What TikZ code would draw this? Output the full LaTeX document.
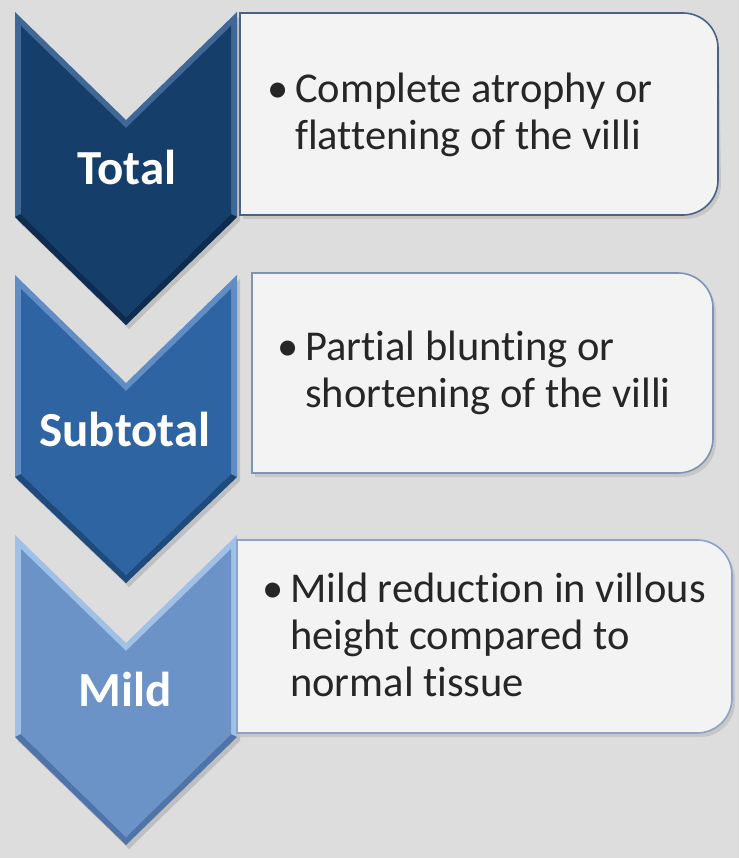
\documentclass[tikz,border=0pt]{standalone}
\usepackage{fontspec}
\setmainfont{Carlito}[Ligatures=NoCommon]
\usetikzlibrary{positioning}

\definecolor{bgray}{RGB}{221,221,221}
\definecolor{boxfill}{RGB}{243,243,243}
\definecolor{txt}{RGB}{38,38,38}
\definecolor{navyA}{RGB}{22,62,106}
\definecolor{navyAl}{RGB}{64,104,150}
\definecolor{navyAd}{RGB}{14,44,80}
\definecolor{blueB}{RGB}{46,100,161}
\definecolor{blueBl}{RGB}{96,142,196}
\definecolor{blueBd}{RGB}{30,74,124}
\definecolor{blueC}{RGB}{108,147,200}
\definecolor{blueCl}{RGB}{160,192,230}
\definecolor{blueCd}{RGB}{80,116,168}
\definecolor{edgeA}{RGB}{72,98,132}
\definecolor{edgeB}{RGB}{126,148,180}
\definecolor{edgeC}{RGB}{140,162,198}

\begin{document}
\begin{tikzpicture}[x=1pt, y=-1pt,
		level/.style={font=\fontsize{49}{52}\selectfont\bfseries, text=white},
		desc/.style={font=\fontsize{42.5}{47}\selectfont, text=txt, align=left, anchor=base west, inner sep=0pt},
		dot/.style={font=\fontsize{42.5}{47}\selectfont, text=txt, anchor=base east, inner sep=0pt},
		card/.style={fill=boxfill, line width=1.6pt}]
				\useasboundingbox[fill=bgray] (0,0) rectangle (739,858);

				% chevron Total
				\fill[black!25] (18,16) -- (129,124) -- (240,16) -- (240,221) -- (129,329) -- (18,221) -- cycle;
				\fill[navyAl] (15,12) -- (126,120) -- (237,12) -- (237,217) -- (126,325) -- (15,217) -- cycle;
				\fill[navyAd] (15,217) -- (126,325) -- (237,217) -- (231,214) -- (126,317) -- (21,214) -- cycle;
				\fill[navyA] (21,26) -- (126,128) -- (231,26) -- (231,214) -- (126,317) -- (21,214) -- cycle;
				\node[level] (total) at (127,167) {Total};

				% chevron Subtotal
				\fill[black!25] (18,279) -- (129,387) -- (240,279) -- (240,481) -- (129,587) -- (18,481) -- cycle;
				\fill[blueBl] (15,275) -- (126,383) -- (237,275) -- (237,477) -- (126,583) -- (15,477) -- cycle;
				\fill[blueBd] (15,477) -- (126,583) -- (237,477) -- (231,474) -- (126,575) -- (21,474) -- cycle;
				\fill[blueB] (21,289) -- (126,391) -- (231,289) -- (231,474) -- (126,575) -- (21,474) -- cycle;
				\node[level] (subtotal) at (125,429) {Subtotal};

				% chevron Mild
				\fill[black!25] (18,539) -- (129,647) -- (240,539) -- (240,741) -- (129,849) -- (18,741) -- cycle;
				\fill[blueCl] (15,535) -- (126,643) -- (237,535) -- (237,737) -- (126,845) -- (15,737) -- cycle;
				\fill[blueCd] (15,737) -- (126,845) -- (237,737) -- (231,734) -- (126,837) -- (21,734) -- cycle;
				\fill[blueC] (21,549) -- (126,651) -- (231,549) -- (231,734) -- (126,837) -- (21,734) -- cycle;
				\node[level] (mild) at (125,689) {Mild};

				% boxes
				\fill[black!22] (243,17) -- (684,17) arc[start angle=-90, end angle=0, radius=35] -- (721,184) arc[start angle=0, end angle=90, radius=35] -- (243,219) -- cycle;
				\draw[card, draw=edgeA] (240,13) -- (683,13) arc[start angle=-90, end angle=0, radius=35] -- (718,180) arc[start angle=0, end angle=90, radius=35] -- (240,215) -- cycle;

				\fill[black!22] (255,277) -- (681,277) arc[start angle=-90, end angle=0, radius=35] -- (716,442) arc[start angle=0, end angle=90, radius=35] -- (255,477) -- cycle;
				\draw[card, draw=edgeB] (252,273) -- (678,273) arc[start angle=-90, end angle=0, radius=35] -- (713,438) arc[start angle=0, end angle=90, radius=35] -- (252,473) -- cycle;

				\fill[black!22] (240,544) -- (700,544) arc[start angle=-90, end angle=0, radius=35] -- (735,702) arc[start angle=0, end angle=90, radius=35] -- (240,737) -- cycle;
				\draw[card, draw=edgeC] (237,540) -- (697,540) arc[start angle=-90, end angle=0, radius=35] -- (732,698) arc[start angle=0, end angle=90, radius=35] -- (237,733) -- cycle;

				% texts (base = last line)
				\node[desc] (d1) at (295,150) {Complete atrophy or\\flattening of the villi};
				\node[dot] (b1) at (289,103) {\textbullet};

				\node[desc] (d2) at (305,407) {Partial blunting or\\shortening of the villi};
				\node[dot] (b2) at (299,360) {\textbullet};

				\node[desc] (d3) at (290,696) {Mild reduction in villous\\height compared to\\normal tissue};
				\node[dot] (b3) at (284,602) {\textbullet};
			\end{tikzpicture}
\end{document}
